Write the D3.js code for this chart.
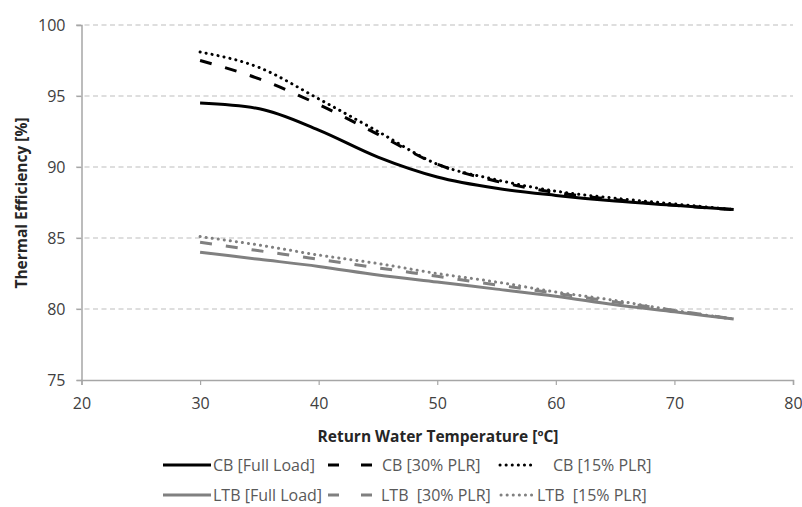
<!DOCTYPE html>
<html>
<head>
<meta charset="utf-8">
<script src="https://cdn.jsdelivr.net/npm/d3@7"></script>
<style>
  body { margin: 0; background: #fff; }
  svg { display: block; font-family: "Open Sans", sans-serif; }
</style>
</head>
<body>
<svg width="802" height="507"></svg>
<script>
// return water temperature [ºC]
const temps = [30, 35, 40, 45, 50, 55, 60, 65, 70, 75];

// thermal efficiency [%]
const cbFull = [94.5, 94.1, 92.6, 90.7, 89.3, 88.5, 88.0, 87.6, 87.3, 87.0];
const cb30 = [97.5, 96.2, 94.4, 92.3, 90.2, 89.0, 88.2, 87.7, 87.3, 87.0];
const cb15 = [98.1, 97.0, 94.8, 92.5, 90.2, 89.1, 88.3, 87.8, 87.4, 87.0];
const ltbFull = [84.0, 83.5, 83.0, 82.4, 81.9, 81.4, 80.9, 80.3, 79.8, 79.3];
const ltb30 = [84.7, 84.1, 83.5, 82.9, 82.3, 81.7, 81.1, 80.5, 79.9, 79.3];
const ltb15 = [85.1, 84.5, 83.8, 83.2, 82.5, 81.9, 81.2, 80.6, 79.9, 79.3];

const seriesNames = ['CB [Full Load]', 'CB [30% PLR]', 'CB [15% PLR]',
                     'LTB [Full Load]', 'LTB  [30% PLR]', 'LTB  [15% PLR]'];

const xTicks = [20, 30, 40, 50, 60, 70, 80];
const yTicks = [75, 80, 85, 90, 95, 100];

const svg = d3.select('svg');

const x = d3.scaleLinear().domain([20, 80]).range([81.5, 793]);
const y = d3.scaleLinear().domain([75, 100]).range([380, 25]);

// series styles: colour and dash
const black = '#000000';
const grey = '#808080';
const styles = [
    { c: black, dash: null },
    { c: black, dash: '12,14' },
    { c: black, dash: '0.1,6' },
    { c: grey, dash: null },
    { c: grey, dash: '12,14' },
    { c: grey, dash: '0.1,6' }
];
const values = [cbFull, cb30, cb15, ltbFull, ltb30, ltb15];
const isDot = s => s.dash !== null && s.dash.startsWith('0.1');

// gridlines
svg.append('g')
    .selectAll('line')
    .data(yTicks.filter(d => d !== 75))
    .enter().append('line')
    .attr('x1', 76).attr('x2', 793)
    .attr('y1', d => y(d)).attr('y2', d => y(d))
    .attr('stroke', '#bdbdbd')
    .attr('stroke-width', 1.2)
    .attr('stroke-dasharray', '5,3.5');

// y axis
const yAxis = svg.append('g')
    .attr('transform', 'translate(' + x(20) + ',0)')
    .call(d3.axisLeft(y).tickValues(yTicks).tickSize(5).tickPadding(11));

// x axis
const xAxis = svg.append('g')
    .attr('transform', 'translate(0,' + y(75) + ')')
    .call(d3.axisBottom(x).tickValues(xTicks).tickSize(5).tickPadding(13));

[yAxis, xAxis].forEach(a => {
    a.select('.domain').attr('stroke', '#a6a6a6').attr('stroke-width', 1.5);
    a.selectAll('.tick line').attr('stroke', '#a6a6a6').attr('stroke-width', 1.2);
    a.selectAll('.tick text')
        .attr('fill', '#404040')
        .style('font-size', '16px')
        .style('font-family', '"Open Sans", sans-serif');
});

// axis titles
svg.append('text')
    .attr('x', 438).attr('y', 442)
    .attr('text-anchor', 'middle')
    .attr('fill', '#262626')
    .style('font-size', '15.5px')
    .style('font-weight', 'bold')
    .text('Return Water Temperature [ºC]');

svg.append('text')
    .attr('transform', 'translate(27,203) rotate(-90)')
    .attr('text-anchor', 'middle')
    .attr('fill', '#262626')
    .style('font-size', '15.5px')
    .style('font-weight', 'bold')
    .text('Thermal Efficiency [%]');

// lines
const line = d3.line()
    .x((d, i) => x(temps[i]))
    .y(d => y(d))
    .curve(d3.curveMonotoneX);

// draw grey first so black sits on top
const order = [3, 4, 5, 0, 1, 2];
svg.append('g')
    .selectAll('path')
    .data(order)
    .enter().append('path')
    .attr('d', i => line(values[i]))
    .attr('fill', 'none')
    .attr('stroke', i => styles[i].c)
    .attr('stroke-width', 3)
    .attr('stroke-linecap', i => isDot(styles[i]) ? 'round' : 'butt')
    .attr('stroke-dasharray', i => styles[i].dash);

// legend
const legendPos = [
    { sx: 163, tx: 213, y: 465 },
    { sx: 328, tx: 382, y: 465 },
    { sx: 500, tx: 553, y: 465 },
    { sx: 163, tx: 213, y: 495 },
    { sx: 328, tx: 381, y: 495 },
    { sx: 501, tx: 537, y: 495 }
];

const legend = svg.append('g').selectAll('g')
    .data(seriesNames)
    .enter().append('g');

legend.append('line')
    .attr('x1', (d, i) => legendPos[i].sx)
    .attr('x2', (d, i) => legendPos[i].sx + (styles[i].dash === null ? 48 : isDot(styles[i]) ? 31 : 45))
    .attr('y1', (d, i) => legendPos[i].y)
    .attr('y2', (d, i) => legendPos[i].y)
    .attr('stroke', (d, i) => styles[i].c)
    .attr('stroke-width', 3)
    .attr('stroke-linecap', (d, i) => isDot(styles[i]) ? 'round' : 'butt')
    .attr('stroke-dasharray', (d, i) => styles[i].dash === null ? null : isDot(styles[i]) ? '0.1,6' : '11,22');

legend.append('text')
    .attr('x', (d, i) => legendPos[i].tx)
    .attr('y', (d, i) => legendPos[i].y)
    .attr('dy', '0.35em')
    .attr('fill', '#595959')
    .style('font-size', '16px')
    .style('white-space', 'pre')
    .text(d => d);
</script>
</body>
</html>
